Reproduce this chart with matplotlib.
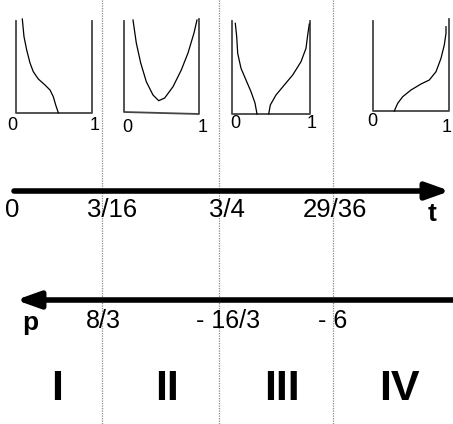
import matplotlib.pyplot as plt

plt.rcParams['font.family'] = ['Liberation Sans', 'DejaVu Sans']

# region boundaries (pixel x of the dotted separators)
boundaries = [102, 219, 333]

# t axis labels and their x positions
t_labels = ["0", "3/16", "3/4", "29/36"]
t_label_x = [12, 112, 227, 335]

# p axis labels
p_labels = ["8/3", "- 16/3", "- 6"]
p_label_x = [103, 228, 333]

regions = ["I", "II", "III", "IV"]
region_x = [57, 167, 282, 399]

# small density sketches (pixel coords)
frames = [
    ([16, 16, 92, 92], [21, 113, 113, 21]),
    ([124, 124, 199, 199], [21, 112, 114, 19]),
    ([232, 232, 310, 310], [21, 114, 114, 21]),
    ([373, 373, 449, 449], [21, 111, 111, 19]),
]
curve1_x = [22.3, 24, 26.7, 30, 33.3, 38.3, 45, 50, 53.3, 55.7, 58.3]
curve1_y = [19, 36.7, 50, 63, 71.7, 79, 85, 90, 96.7, 105, 112.7]
curve2_x = [133, 136.3, 140.7, 146.3, 153, 158.7, 164.7, 173, 181.3, 188, 194, 197]
curve2_y = [20, 43, 63, 81.7, 95, 100.7, 98, 86.7, 70, 53, 33, 20]
curve3a_x = [235.3, 236.7, 237.7, 241, 246, 251, 255, 257]
curve3a_y = [23.3, 36.7, 53.3, 68.3, 80, 91.7, 103, 114]
curve3b_x = [268.7, 270.3, 276, 284.3, 292.7, 301, 306, 307.7, 309.3]
curve3b_y = [114, 105, 95, 85, 75, 61.7, 48.3, 35, 24]
curve4_x = [394.3, 397.7, 402.7, 411, 421, 429.3, 436, 441, 444.3, 446, 446]
curve4_y = [111, 103.3, 96.7, 90, 84, 80, 71.7, 58.3, 45, 33.3, 26.7]
curves = [(curve1_x, curve1_y), (curve2_x, curve2_y), (curve3a_x, curve3a_y),
          (curve3b_x, curve3b_y), (curve4_x, curve4_y)]
small_labels = [(12, 125, "0"), (95, 125, "1"), (127, 127, "0"), (203, 127, "1"),
                (235, 123, "0"), (312, 123, "1"), (372, 121, "0"), (447, 127, "1")]

fig = plt.figure(figsize=(4.53, 4.24), dpi=100)
ax = fig.add_axes([0, 0, 1, 1])
ax.set_xlim(0, 453)
ax.set_ylim(424, 0)
ax.axis('off')

for b in boundaries:
    ax.plot([b, b], [0, 424], color='#888888', lw=0.9, ls=(0, (1, 1)))

for fx, fy in frames:
    ax.plot(fx, fy, color='#444444', lw=1.3)
for cx, cy in curves:
    ax.plot(cx, cy, color='black', lw=0.9)
for x, y, s in small_labels:
    ax.text(x, y, s, fontsize=13, ha='center', va='center')

# t axis
ax.annotate('', xy=(450, 191), xytext=(14, 191),
            arrowprops=dict(arrowstyle='-|>,head_length=1.4,head_width=0.5',
                            lw=4, color='black', shrinkA=0, shrinkB=0))
for s, x in zip(t_labels, t_label_x):
    ax.text(x, 210, s, fontsize=18.5, ha='center', va='center')
ax.text(432, 214, 't', fontsize=19, fontweight='bold', ha='center', va='center')

# p axis
ax.annotate('', xy=(16, 300), xytext=(453, 300),
            arrowprops=dict(arrowstyle='-|>,head_length=1.4,head_width=0.5',
                            lw=4, color='black', shrinkA=0, shrinkB=0))
for s, x in zip(p_labels, p_label_x):
    ax.text(x, 321, s, fontsize=18, ha='center', va='center')
ax.text(30, 323, 'p', fontsize=19, fontweight='bold', ha='center', va='center')

for s, x in zip(regions, region_x):
    ax.text(x, 389, s, fontsize=31, fontweight='bold', ha='center', va='center')

fig.savefig('out.png', dpi=100)
